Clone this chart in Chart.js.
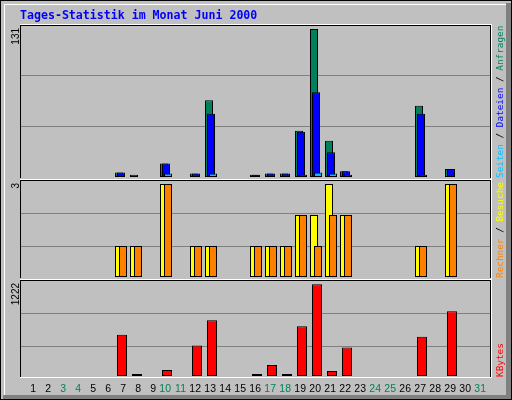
<!DOCTYPE html>
<html>
<head>
<meta charset="utf-8">
<script src="https://cdn.jsdelivr.net/npm/chart.js@4/dist/chart.umd.min.js"></script>
<style>
  html, body { margin: 0; padding: 0; background: #c0c0c0; }
  #wrap { width: 512px; height: 400px; }
</style>
</head>
<body>
<div id="wrap"><canvas id="tagesChart" width="512" height="400"></canvas></div>
<script>
// Tages-Statistik Juni 2000 (one value per day, 1..31)
const days = [1,2,3,4,5,6,7,8,9,10,11,12,13,14,15,16,17,18,19,20,21,22,23,24,25,26,27,28,29,30,31];
const weekendDays = [3,4,10,11,17,18,24,25,31];

const hits   = [0,0,0,0,0,0,4,2,0,12,0,3,68,0,0,2,3,3,41,131,32,5,0,0,0,0,63,0,7,0,0];
const files  = [0,0,0,0,0,0,4,0,0,12,0,3,56,0,0,2,3,3,40,75,22,5,0,0,0,0,56,0,7,0,0];
const pages  = [0,0,0,0,0,0,0,0,0,3,0,0,3,0,0,0,0,0,2,4,3,2,0,0,0,0,2,0,0,0,0];
const visits = [0,0,0,0,0,0,1,1,0,3,0,1,1,0,0,1,1,1,2,2,3,2,0,0,0,0,1,0,3,0,0];
const sites  = [0,0,0,0,0,0,1,1,0,3,0,1,1,0,0,1,1,1,2,1,2,2,0,0,0,0,1,0,3,0,0];
const kbytes = [0,0,0,0,0,0,551,25,0,80,0,407,743,0,0,25,148,25,662,1222,67,380,0,0,0,0,524,0,864,0,0];

const title = 'Tages-Statistik im Monat Juni 2000';

const GREEN = '#00805C', BLUE = '#0000FF', CYAN = '#00C0FF';
const YELLOW = '#FFFF00', ORANGE = '#FF8000', RED = '#FF0000';
const DAY_PX = 15;

const maxHits = Math.max(...hits);
const maxVisits = Math.max(...visits);
const maxKB = Math.max(...kbytes);

// bars sit a few pixels left of the day tick, overlapping like the original
function series(values, shiftPx) {
  return days.map((d, i) => ({ x: d + shiftPx / DAY_PX, y: values[i] || null }));
}

function bar(label, values, color, shiftPx, width, axis, order) {
  return {
    label: label,
    data: series(values, shiftPx),
    backgroundColor: color,
    borderColor: '#000',
    borderWidth: 1,
    borderSkipped: false,
    inflateAmount: 0,
    barThickness: width,
    grouped: false,
    yAxisID: axis,
    order: order
  };
}

function panelAxis(weight, stackWeight, max, gridAt) {
  return {
    type: 'linear',
    position: 'right',
    stack: 'panels',
    stackWeight: stackWeight,
    weight: weight,
    min: 0,
    max: max,
    afterFit: s => { s.width = 0; },
    afterBuildTicks: s => { s.ticks = gridAt.map(f => ({ value: f * max })); },
    ticks: { display: false },
    border: { display: false },
    grid: { color: '#808080', lineWidth: 1, drawTicks: false }
  };
}

const panelLabels = [
  { axis: 'yHits', inset: 0, text: String(maxHits),
    legend: [['Seiten', CYAN], [' / ', '#000'], ['Dateien', BLUE], [' / ', '#000'], ['Anfragen', GREEN]] },
  { axis: 'yVisits', inset: 3, text: String(maxVisits),
    legend: [['Rechner', ORANGE], [' / ', '#000'], ['Besuche', YELLOW]] },
  { axis: 'yKB', inset: 3, text: String(maxKB),
    legend: [['KBytes', RED]] }
];

const framePlugin = {
  id: 'webalizerFrame',
  beforeDraw(chart) {
    const c = chart.ctx;
    c.save();
    c.fillStyle = '#c0c0c0';
    c.fillRect(0, 0, 512, 400);
    // raised box look
    c.fillStyle = '#808080';
    c.fillRect(506, 3, 5, 396);
    c.fillRect(3, 395, 508, 4);
    c.fillStyle = '#ffffff';
    c.fillRect(4, 4, 502, 1);
    c.fillRect(4, 4, 1, 391);
    c.strokeStyle = '#000';
    c.lineWidth = 1;
    c.strokeRect(0.5, 0.5, 511, 399);

    c.font = 'bold 11.6px "DejaVu Sans Mono"';
    c.fillStyle = BLUE;
    c.textBaseline = 'alphabetic';
    c.textAlign = 'left';
    c.fillText(title, 20, 18.5);
    c.restore();
  },
  afterDatasetsDraw(chart) {
    const c = chart.ctx;
    const area = chart.chartArea;
    const L = Math.round(area.left), R = Math.round(area.right);
    c.save();
    panelLabels.forEach(p => {
      const s = chart.scales[p.axis];
      const top = Math.round(s.top) + p.inset;
      const bottom = Math.round(s.bottom);
      c.fillStyle = '#fff';
      c.fillRect(L, top - 1, R - L + 1, 1);
      c.fillStyle = '#000';
      c.fillRect(L, top, R - L, 1);
      c.fillRect(L, top, 1, bottom - top + 1);
      c.fillRect(R - 1, top, 1, bottom - top + 1);

      // max value, rotated, left of the panel
      c.save();
      c.translate(19, top + 3);
      c.rotate(-Math.PI / 2);
      c.font = '10px "Liberation Sans"';
      c.fillStyle = '#000';
      c.textAlign = 'right';
      c.textBaseline = 'alphabetic';
      c.fillText(p.text, 0, 0);
      c.restore();

      // coloured legend, rotated, right of the panel
      c.save();
      c.translate(503, bottom + 1);
      c.rotate(-Math.PI / 2);
      c.font = '9.4px "DejaVu Sans Mono"';
      c.textAlign = 'left';
      c.textBaseline = 'alphabetic';
      let x = 0;
      p.legend.forEach(([t, col]) => {
        c.fillStyle = col;
        c.fillText(t, x, 0);
        x += c.measureText(t).width;
      });
      c.restore();
    });
    c.fillStyle = '#fff';
    c.fillRect(R, Math.round(area.top) - 1, 1, Math.round(area.bottom) - Math.round(area.top) + 3);
    c.fillRect(L, Math.round(area.bottom) + 1, R - L + 1, 1);
    c.restore();
  }
};

new Chart(document.getElementById('tagesChart'), {
  type: 'bar',
  data: {
    datasets: [
      bar('Anfragen', hits, GREEN, -7, 8, 'yHits', 3),
      bar('Dateien', files, BLUE, -5, 8, 'yHits', 2),
      bar('Seiten', pages, CYAN, -3, 8, 'yHits', 1),
      bar('Besuche', visits, YELLOW, -7, 8, 'yVisits', 2),
      bar('Rechner', sites, ORANGE, -3, 8, 'yVisits', 1),
      bar('KBytes', kbytes, RED, -4, 10, 'yKB', 1)
    ]
  },
  options: {
    responsive: false,
    animation: false,
    events: [],
    layout: { padding: { left: 20, right: 21, top: 25, bottom: 0 } },
    plugins: {
      legend: { display: false },
      tooltip: { enabled: false },
      title: { display: false }
    },
    scales: {
      x: {
        type: 'linear',
        min: -1 / DAY_PX,
        max: 31 + 1 / 3,
        offset: false,
        grid: { display: false, drawTicks: false },
        border: { display: false },
        afterFit: s => { s.height = 24; },
        afterBuildTicks: s => { s.ticks = days.map(d => ({ value: d })); },
        ticks: {
          autoSkip: false,
          maxRotation: 0,
          minRotation: 0,
          align: 'end',
          padding: 7,
          font: { family: 'Liberation Sans', size: 10.5 },
          color: ctx => weekendDays.includes(ctx.tick.value) ? GREEN : '#000',
          callback: v => String(v)
        }
      },
      yHits: panelAxis(1, 152, maxHits * 152 / 148, [1 / 3, 2 / 3]),
      yVisits: panelAxis(2, 100, maxVisits * 100 / 93, [0.31, 0.64]),
      yKB: panelAxis(3, 99, maxKB * 99 / 91.7, [0.30, 0.633])
    }
  },
  plugins: [framePlugin]
});
</script>
</body>
</html>
